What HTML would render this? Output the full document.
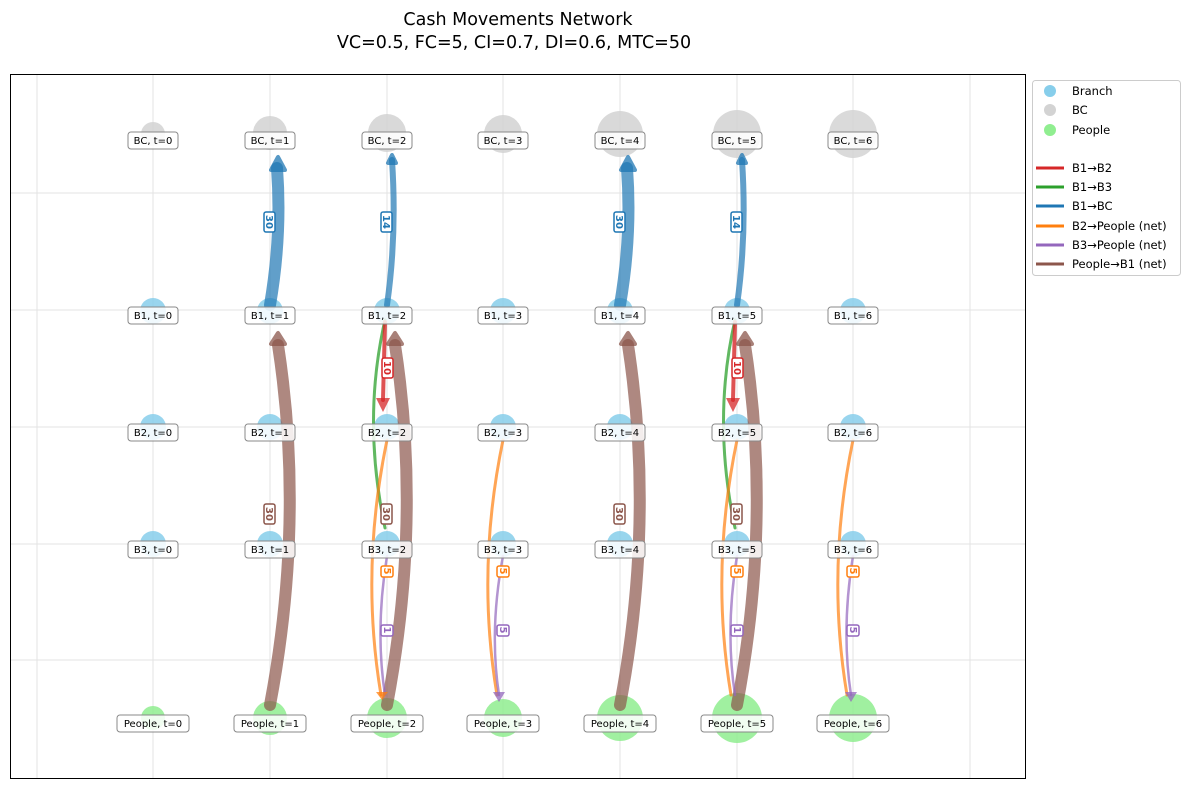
<!DOCTYPE html>
<html><head><meta charset="utf-8"><style>
body{margin:0;background:#fff;}
svg{display:block;font-family:"DejaVu Sans","Liberation Sans",sans-serif;}
.lb{font-size:10px;}
</style></head><body>
<svg width="1189" height="789" viewBox="0 0 1189 789" xmlns="http://www.w3.org/2000/svg">
<text x="518" y="25" font-size="17.5" text-anchor="middle">Cash Movements Network</text>
<text x="514" y="48" font-size="17.5" text-anchor="middle">VC=0.5, FC=5, CI=0.7, DI=0.6, MTC=50</text>
<g stroke="#e3e3e3" stroke-width="1">
<line x1="37" y1="75" x2="37" y2="779"/><line x1="153" y1="75" x2="153" y2="779"/><line x1="270" y1="75" x2="270" y2="779"/><line x1="387" y1="75" x2="387" y2="779"/><line x1="503" y1="75" x2="503" y2="779"/><line x1="620" y1="75" x2="620" y2="779"/><line x1="737" y1="75" x2="737" y2="779"/><line x1="853" y1="75" x2="853" y2="779"/><line x1="970" y1="75" x2="970" y2="779"/>
<line x1="10" y1="193" x2="1026" y2="193"/><line x1="10" y1="310" x2="1026" y2="310"/><line x1="10" y1="427" x2="1026" y2="427"/><line x1="10" y1="544" x2="1026" y2="544"/><line x1="10" y1="660" x2="1026" y2="660"/>
</g>
<g fill="#d3d3d3" opacity="0.85">
<circle cx="153" cy="134" r="12"/><circle cx="270" cy="133" r="17"/><circle cx="387" cy="133" r="19"/><circle cx="503" cy="134" r="19"/><circle cx="620" cy="134" r="23"/><circle cx="737" cy="134" r="24"/><circle cx="853" cy="134" r="24"/>
</g>
<g fill="#87ceeb" opacity="0.85">
<circle cx="153" cy="311" r="13"/><circle cx="270" cy="311" r="13"/><circle cx="387" cy="311" r="13"/><circle cx="503" cy="311" r="13"/><circle cx="620" cy="311" r="13"/><circle cx="737" cy="311" r="13"/><circle cx="853" cy="311" r="13"/>
<circle cx="153" cy="427" r="13"/><circle cx="270" cy="427" r="13"/><circle cx="387" cy="427" r="13"/><circle cx="503" cy="427" r="13"/><circle cx="620" cy="427" r="13"/><circle cx="737" cy="427" r="13"/><circle cx="853" cy="427" r="13"/>
<circle cx="153" cy="544" r="13"/><circle cx="270" cy="544" r="13"/><circle cx="387" cy="544" r="13"/><circle cx="503" cy="544" r="13"/><circle cx="620" cy="544" r="13"/><circle cx="737" cy="544" r="13"/><circle cx="853" cy="544" r="13"/>
</g>
<g fill="#90ee90" opacity="0.85">
<circle cx="153" cy="718" r="12"/><circle cx="270" cy="718" r="17"/><circle cx="387" cy="718" r="20"/><circle cx="503" cy="718" r="19"/><circle cx="620" cy="718" r="23"/><circle cx="737" cy="718" r="25"/><circle cx="853" cy="718" r="24"/>
</g>
<g fill="none" stroke-linecap="round">
<g stroke="#1f77b4" opacity="0.7">
<path d="M270 305 Q282 235 277 168" stroke-width="12"/>
<path d="M620 305 Q632 235 627 168" stroke-width="12"/>
<path d="M387 305 Q397 235 392 160" stroke-width="6"/>
<path d="M737 305 Q747 235 742 160" stroke-width="6"/>
</g>
<g stroke="#8c564b" opacity="0.7" stroke-width="12">
<path d="M270 705 Q305 520 278 345"/>
<path d="M387 705 Q422 520 395 345"/>
<path d="M620 705 Q655 520 628 345"/>
<path d="M737 705 Q772 520 745 345"/>
</g>
<g stroke="#2ca02c" opacity="0.75" stroke-width="3">
<path d="M385 320 Q362 420 385 528"/>
<path d="M735 320 Q712 420 735 528"/>
</g>
<g stroke="#d62728" opacity="0.8" stroke-width="4">
<path d="M385 322 L383 400"/><path d="M735 322 L733 400"/>
</g>
<g stroke="#ff7f0e" opacity="0.7" stroke-width="3">
<path d="M387 440 Q360 570 381 695"/>
<path d="M503 440 Q476 570 497 695"/>
<path d="M737 440 Q710 570 731 695"/>
<path d="M853 440 Q826 570 847 695"/>
</g>
<g stroke="#9467bd" opacity="0.7" stroke-width="2.5">
<path d="M387 556 Q375 630 385 695"/>
<path d="M503 556 Q489 630 499 695"/>
<path d="M737 556 Q725 630 735 695"/>
<path d="M853 556 Q841 630 851 695"/>
</g>
</g>
<g opacity="0.75" stroke-linejoin="round">
<g fill="#1f77b4" stroke="#1f77b4" stroke-width="4"><path d="M271 170 L285 170 L278 157Z"/><path d="M621 170 L635 170 L628 157Z"/><path d="M388 163 L396 163 L392 155Z"/><path d="M738 163 L746 163 L742 155Z"/></g>
<g fill="#8c564b" stroke="#8c564b" stroke-width="4"><path d="M271 344 L285 344 L278 333Z"/><path d="M388 344 L402 344 L395 333Z"/><path d="M621 344 L635 344 L628 333Z"/><path d="M738 344 L752 344 L745 333Z"/></g>
<g fill="#d62728"><path d="M376 398 L390 398 L383 412Z"/><path d="M726 398 L740 398 L733 412Z"/></g>
<g fill="#9467bd"><path d="M493 692 L505 692 L499 702Z"/><path d="M845 692 L857 692 L851 702Z"/></g>
<g fill="#ff7f0e"><path d="M376 692 L388 692 L382 700Z"/></g>
</g>
<g font-size="10" font-weight="bold" text-anchor="middle">
<g fill="#fff" stroke-width="1.5">
<rect x="264" y="212" width="11" height="20" rx="2" stroke="#1f77b4"/><rect x="614" y="212" width="11" height="20" rx="2" stroke="#1f77b4"/>
<rect x="381" y="212" width="11" height="20" rx="2" stroke="#1f77b4"/><rect x="731" y="212" width="11" height="20" rx="2" stroke="#1f77b4"/>
<rect x="264" y="504" width="11" height="20" rx="2" stroke="#8c564b"/><rect x="381" y="504" width="11" height="20" rx="2" stroke="#8c564b"/>
<rect x="614" y="504" width="11" height="20" rx="2" stroke="#8c564b"/><rect x="731" y="504" width="11" height="20" rx="2" stroke="#8c564b"/>
<rect x="382" y="358" width="11" height="20" rx="2" stroke="#d62728"/><rect x="732" y="358" width="11" height="20" rx="2" stroke="#d62728"/>
<rect x="381" y="566" width="12" height="11" rx="2" stroke="#ff7f0e"/><rect x="497" y="566" width="12" height="11" rx="2" stroke="#ff7f0e"/><rect x="731" y="566" width="12" height="11" rx="2" stroke="#ff7f0e"/><rect x="847" y="566" width="12" height="11" rx="2" stroke="#ff7f0e"/>
<rect x="381" y="625" width="12" height="11" rx="2" stroke="#9467bd"/><rect x="497" y="625" width="12" height="11" rx="2" stroke="#9467bd"/><rect x="731" y="625" width="12" height="11" rx="2" stroke="#9467bd"/><rect x="847" y="625" width="12" height="11" rx="2" stroke="#9467bd"/>
</g>
<g fill="#1f77b4"><text transform="translate(266,222) rotate(90)">30</text><text transform="translate(616,222) rotate(90)">30</text><text transform="translate(383,222) rotate(90)">14</text><text transform="translate(733,222) rotate(90)">14</text></g>
<g fill="#8c564b"><text transform="translate(266,514) rotate(90)">30</text><text transform="translate(383,514) rotate(90)">30</text><text transform="translate(616,514) rotate(90)">30</text><text transform="translate(733,514) rotate(90)">30</text></g>
<g fill="#d62728"><text transform="translate(384,368) rotate(90)">10</text><text transform="translate(734,368) rotate(90)">10</text></g>
<g fill="#ff7f0e"><text transform="translate(384,571) rotate(90)">5</text><text transform="translate(500,571) rotate(90)">5</text><text transform="translate(734,571) rotate(90)">5</text><text transform="translate(850,571) rotate(90)">5</text></g>
<g fill="#9467bd"><text transform="translate(384,630) rotate(90)">1</text><text transform="translate(500,630) rotate(90)">5</text><text transform="translate(734,630) rotate(90)">1</text><text transform="translate(850,630) rotate(90)">5</text></g>
</g>
<g class="lb" text-anchor="middle">
<g fill="#fff" fill-opacity="0.85" stroke="#888" stroke-width="1">
<rect x="128" y="132" width="50" height="17" rx="3"/><rect x="245" y="132" width="50" height="17" rx="3"/><rect x="362" y="132" width="50" height="17" rx="3"/><rect x="478" y="132" width="50" height="17" rx="3"/><rect x="595" y="132" width="50" height="17" rx="3"/><rect x="712" y="132" width="50" height="17" rx="3"/><rect x="828" y="132" width="50" height="17" rx="3"/>
<rect x="128" y="307" width="50" height="17" rx="3"/><rect x="245" y="307" width="50" height="17" rx="3"/><rect x="362" y="307" width="50" height="17" rx="3"/><rect x="478" y="307" width="50" height="17" rx="3"/><rect x="595" y="307" width="50" height="17" rx="3"/><rect x="712" y="307" width="50" height="17" rx="3"/><rect x="828" y="307" width="50" height="17" rx="3"/>
<rect x="128" y="424" width="50" height="17" rx="3"/><rect x="245" y="424" width="50" height="17" rx="3"/><rect x="362" y="424" width="50" height="17" rx="3"/><rect x="478" y="424" width="50" height="17" rx="3"/><rect x="595" y="424" width="50" height="17" rx="3"/><rect x="712" y="424" width="50" height="17" rx="3"/><rect x="828" y="424" width="50" height="17" rx="3"/>
<rect x="128" y="541" width="50" height="17" rx="3"/><rect x="245" y="541" width="50" height="17" rx="3"/><rect x="362" y="541" width="50" height="17" rx="3"/><rect x="478" y="541" width="50" height="17" rx="3"/><rect x="595" y="541" width="50" height="17" rx="3"/><rect x="712" y="541" width="50" height="17" rx="3"/><rect x="828" y="541" width="50" height="17" rx="3"/>
<rect x="117" y="715" width="72" height="17" rx="3"/><rect x="234" y="715" width="72" height="17" rx="3"/><rect x="351" y="715" width="72" height="17" rx="3"/><rect x="467" y="715" width="72" height="17" rx="3"/><rect x="584" y="715" width="72" height="17" rx="3"/><rect x="701" y="715" width="72" height="17" rx="3"/><rect x="817" y="715" width="72" height="17" rx="3"/>
</g>
<g fill="#000">
<text x="153" y="144">BC, t=0</text><text x="270" y="144">BC, t=1</text><text x="387" y="144">BC, t=2</text><text x="503" y="144">BC, t=3</text><text x="620" y="144">BC, t=4</text><text x="737" y="144">BC, t=5</text><text x="853" y="144">BC, t=6</text>
<text x="153" y="319">B1, t=0</text><text x="270" y="319">B1, t=1</text><text x="387" y="319">B1, t=2</text><text x="503" y="319">B1, t=3</text><text x="620" y="319">B1, t=4</text><text x="737" y="319">B1, t=5</text><text x="853" y="319">B1, t=6</text>
<text x="153" y="436">B2, t=0</text><text x="270" y="436">B2, t=1</text><text x="387" y="436">B2, t=2</text><text x="503" y="436">B2, t=3</text><text x="620" y="436">B2, t=4</text><text x="737" y="436">B2, t=5</text><text x="853" y="436">B2, t=6</text>
<text x="153" y="553">B3, t=0</text><text x="270" y="553">B3, t=1</text><text x="387" y="553">B3, t=2</text><text x="503" y="553">B3, t=3</text><text x="620" y="553">B3, t=4</text><text x="737" y="553">B3, t=5</text><text x="853" y="553">B3, t=6</text>
<text x="153" y="727">People, t=0</text><text x="270" y="727">People, t=1</text><text x="387" y="727">People, t=2</text><text x="503" y="727">People, t=3</text><text x="620" y="727">People, t=4</text><text x="737" y="727">People, t=5</text><text x="853" y="727">People, t=6</text>
</g></g>
<rect x="10.5" y="74.5" width="1015" height="704" fill="none" stroke="#000" stroke-width="1"/>
<rect x="1032.5" y="80.5" width="148" height="195" rx="3" fill="#fff" stroke="#ccc"/>
<g font-size="11.5">
<circle cx="1050" cy="91" r="6" fill="#87ceeb"/><text x="1072" y="95">Branch</text>
<circle cx="1050" cy="110" r="6" fill="#d3d3d3"/><text x="1072" y="114">BC</text>
<circle cx="1050" cy="130" r="6" fill="#90ee90"/><text x="1072" y="134">People</text>
<g stroke-width="3">
<line x1="1036" y1="168" x2="1064" y2="168" stroke="#d62728"/><line x1="1036" y1="187" x2="1064" y2="187" stroke="#2ca02c"/><line x1="1036" y1="206" x2="1064" y2="206" stroke="#1f77b4"/><line x1="1036" y1="226" x2="1064" y2="226" stroke="#ff7f0e"/><line x1="1036" y1="245" x2="1064" y2="245" stroke="#9467bd"/><line x1="1036" y1="264" x2="1064" y2="264" stroke="#8c564b"/>
</g>
<text x="1072" y="172">B1→B2</text><text x="1072" y="191">B1→B3</text><text x="1072" y="210">B1→BC</text><text x="1072" y="230">B2→People (net)</text><text x="1072" y="249">B3→People (net)</text><text x="1072" y="268">People→B1 (net)</text>
</g>
</svg>
</body></html>
